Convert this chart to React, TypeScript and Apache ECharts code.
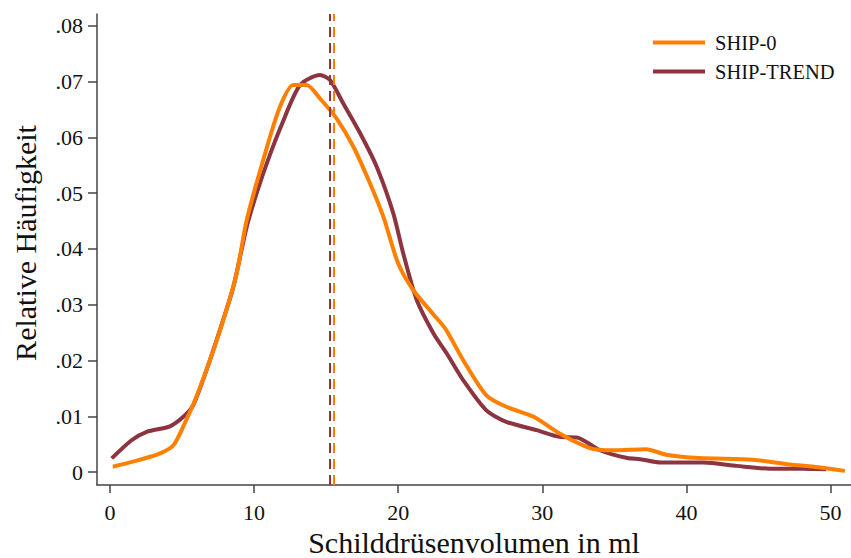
import React, { useEffect, useRef } from "react";
import * as echarts from "echarts";

// ---- data ----
const seriesNames = ["SHIP-0", "SHIP-TREND"];
const ship0X = [0.2, 1.6, 3.35, 4.4, 5.2, 6.0, 6.94, 7.87, 8.79, 9.49, 10.64, 11.75, 12.72, 13.65, 14.57, 15.73, 16.9, 18.04, 18.97, 20.0, 21.05, 22.4, 23.3, 24.5, 26.1, 27.5, 29.4, 31.2, 33.3, 34.9, 37.2, 38.6, 40.9, 44.6, 47.0, 49.3, 51.0];
const ship0Y = [0.00095, 0.00185, 0.0032, 0.0048, 0.0088, 0.0135, 0.0201, 0.0273, 0.0356, 0.0452, 0.056, 0.0652, 0.0694, 0.0694, 0.067, 0.0634, 0.0583, 0.0518, 0.0458, 0.0374, 0.0326, 0.0284, 0.0256, 0.0201, 0.0138, 0.0117, 0.0099, 0.0069, 0.0043, 0.0039, 0.0041, 0.0031, 0.0025, 0.0022, 0.0014, 0.0008, 0.0002];
const trendX = [0.12, 1.5, 2.55, 4.16, 5.09, 5.78, 6.7, 7.63, 8.56, 9.49, 10.18, 10.9, 11.9, 13.19, 14.57, 15.27, 16.19, 17.35, 18.5, 19.66, 20.35, 21.28, 22.44, 23.36, 24.5, 26.1, 27.5, 29.6, 31.2, 32.4, 34.0, 35.9, 36.8, 38.2, 41.2, 43.5, 45.8, 48.1, 49.7];
const trendY = [0.00245, 0.0057, 0.0072, 0.0082, 0.0099, 0.012, 0.0183, 0.0255, 0.0332, 0.044, 0.05, 0.0555, 0.0622, 0.0694, 0.0712, 0.0703, 0.0661, 0.0608, 0.0548, 0.0464, 0.0392, 0.0309, 0.0249, 0.0213, 0.0165, 0.0111, 0.009, 0.0075, 0.0063, 0.0062, 0.0039, 0.0025, 0.0023, 0.0017, 0.0017, 0.0011, 0.0006, 0.0006, 0.0005];
const meanValues = [15.5, 15.27]; // SHIP-0, SHIP-TREND
const xTicks = [0, 10, 20, 30, 40, 50];
const yTicks = [0, 0.01, 0.02, 0.03, 0.04, 0.05, 0.06, 0.07, 0.08];
const xTitle = "Schilddrüsenvolumen in ml";
const yTitle = "Relative Häufigkeit";

const colors = ["#ff8000", "#8c3440"];
const FONT = "'Liberation Serif', 'Times New Roman', serif";

export default function App() {
  const ref = useRef<HTMLDivElement>(null);
  useEffect(() => {
    if (!ref.current) return;
    const chart = echarts.init(ref.current, undefined, { renderer: "svg" });
    const xs = [ship0X, trendX];
    const ys = [ship0Y, trendY];
    const series = seriesNames.map((name, i) => ({
      name,
      type: "line" as const,
      data: xs[i].map((x, j) => [x, ys[i][j]]),
      showSymbol: false,
      symbol: "none",
      smooth: 0.25,
      z: 3 - i,
      lineStyle: { color: colors[i], width: 4 },
      itemStyle: { color: colors[i] },
      markLine: {
        silent: true,
        symbol: "none",
        label: { show: false },
        lineStyle: { color: colors[i], width: 2, type: [10, 6] as any },
        data: [{ xAxis: meanValues[i] }],
      },
    }));
    chart.setOption({
      animation: false,
      backgroundColor: "#fff",
      textStyle: { fontFamily: FONT },
      grid: { left: 97, right: 0, top: 14, bottom: 73, outerBoundsMode: "none" } as any,
      legend: {
        orient: "vertical",
        left: 648,
        top: 27,
        itemWidth: 52,
        itemHeight: 4,
        itemGap: 8,
        icon: "rect",
        textStyle: { fontFamily: FONT, fontSize: 20.5, color: "#111", padding: [0, 0, 0, 5], lineHeight: 20 },
        data: seriesNames.map((n, i) => ({ name: n, itemStyle: { color: colors[i] } })),
      },
      xAxis: {
        type: "value",
        min: -0.9,
        max: 51.42,
        name: xTitle,
        nameLocation: "middle",
        nameGap: 40,
        nameTextStyle: { fontFamily: FONT, fontSize: 30, color: "#111" },
        axisLine: { show: true, onZero: false, lineStyle: { color: "#444", width: 1.5 } },
        axisTick: { show: true, length: 8, customValues: xTicks, lineStyle: { color: "#444", width: 1.5 } },
        axisLabel: { customValues: xTicks, margin: 16, fontFamily: FONT, fontSize: 22, color: "#111" },
        splitLine: { show: false },
      },
      yAxis: {
        type: "value",
        min: -0.00233,
        max: 0.08215,
        axisLine: { show: true, onZero: false, lineStyle: { color: "#444", width: 1.5 } },
        axisTick: { show: true, length: 9, customValues: yTicks, lineStyle: { color: "#444", width: 1.5 } },
        axisLabel: {
          customValues: yTicks,
          margin: 14,
          fontFamily: FONT,
          fontSize: 22,
          color: "#111",
          formatter: (v: number) => (v === 0 ? "0" : v.toFixed(2).replace(/^0/, "")),
        },
        splitLine: { show: false },
      },
      graphic: [
        {
          type: "text",
          x: 25,
          y: 243,
          rotation: Math.PI / 2,
          style: {
            text: yTitle,
            fontFamily: FONT,
            fontSize: 30,
            fill: "#111",
            align: "center",
            verticalAlign: "middle",
          },
        },
      ],
      series,
    });
    return () => chart.dispose();
  }, []);
  return (
    <div
      ref={ref}
      style={{ position: "fixed", left: 0, top: 0, width: 851, height: 558 }}
    />
  );
}
